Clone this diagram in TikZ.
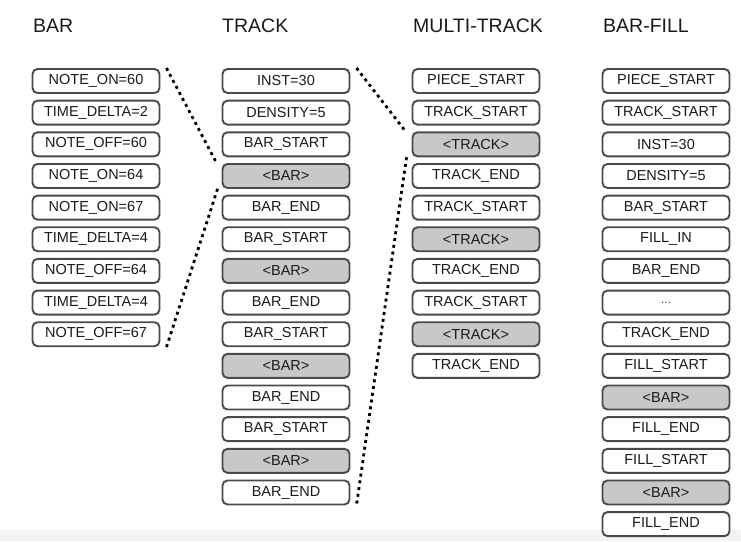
\documentclass[tikz,border=0pt]{standalone}
\usepackage{fontspec}
\setmainfont{Liberation Sans}
\definecolor{boxline}{HTML}{4A4A4A}
\definecolor{boxgray}{HTML}{C8C8C8}
\definecolor{txt}{HTML}{1A1A1A}
\definecolor{strip}{HTML}{F3F3F3}
\begin{document}
\begin{tikzpicture}[x=1pt,y=-1pt,
  tok/.style={draw=boxline,line width=1.9pt,rounded corners=5pt,fill=white,
    minimum width=127pt,minimum height=24pt,inner sep=0pt,text=txt,
    font=\fontsize{14.5}{17}\selectfont},
  tokg/.style={tok,fill=boxgray},
  ttl/.style={anchor=base west,inner sep=0pt,text=txt,font=\fontsize{19.5}{22}\selectfont},
  dots/.style={line width=2.8pt,dash pattern=on 3pt off 3.8pt,black}]
\useasboundingbox (0,0) rectangle (741,541);
\fill[white] (0,0) rectangle (741,530);
\fill[strip] (0,530) rectangle (741,541);
\node[ttl] (h1) at (33,32) {BAR};
\node[ttl] (h2) at (222,32) {TRACK};
\node[ttl] (h3) at (413,32) {MULTI-TRACK};
\node[ttl] (h4) at (603,32) {BAR-FILL};
% BAR column
\foreach [count=\i] \t/\s in {NOTE\_ON=60/tok,TIME\_DELTA=2/tok,NOTE\_OFF=60/tok,NOTE\_ON=64/tok,NOTE\_ON=67/tok,TIME\_DELTA=4/tok,NOTE\_OFF=64/tok,TIME\_DELTA=4/tok,NOTE\_OFF=67/tok}
  \node[\s] (b\i) at (96,{81+(\i-1)*31.65}) {\t};
% TRACK column
\foreach [count=\i] \t/\s in {INST=30/tok,DENSITY=5/tok,BAR\_START/tok,<BAR>/tokg,BAR\_END/tok,BAR\_START/tok,<BAR>/tokg,BAR\_END/tok,BAR\_START/tok,<BAR>/tokg,BAR\_END/tok,BAR\_START/tok,<BAR>/tokg,BAR\_END/tok}
  \node[\s] (t\i) at (286,{81+(\i-1)*31.65}) {\t};
% MULTI-TRACK column
\foreach [count=\i] \t/\s in {PIECE\_START/tok,TRACK\_START/tok,<TRACK>/tokg,TRACK\_END/tok,TRACK\_START/tok,<TRACK>/tokg,TRACK\_END/tok,TRACK\_START/tok,<TRACK>/tokg,TRACK\_END/tok}
  \node[\s] (m\i) at (476,{81+(\i-1)*31.65}) {\t};
% BAR-FILL column
\foreach [count=\i] \t/\s in {PIECE\_START/tok,TRACK\_START/tok,INST=30/tok,DENSITY=5/tok,BAR\_START/tok,FILL\_IN/tok,BAR\_END/tok,{\fontsize{11}{13}\selectfont.\kern0.3pt.\kern0.3pt.}/tok,TRACK\_END/tok,FILL\_START/tok,<BAR>/tokg,FILL\_END/tok,FILL\_START/tok,<BAR>/tokg,FILL\_END/tok}
  \node[\s] (f\i) at (666,{81+(\i-1)*31.65}) {\t};
% dotted connectors
\draw[dots] ([xshift=6pt]b1.north east) -- ([xshift=-5pt]t4.north west);
\draw[dots] ([xshift=-4pt]t4.south west) -- ([xshift=6pt]b9.south east);
\draw[dots] ([xshift=6pt]t1.north east) -- ([xshift=-6pt]m3.north west);
\draw[dots] ([xshift=-5pt]m3.south west) -- ([xshift=6pt]t14.south east);
\end{tikzpicture}
\end{document}
